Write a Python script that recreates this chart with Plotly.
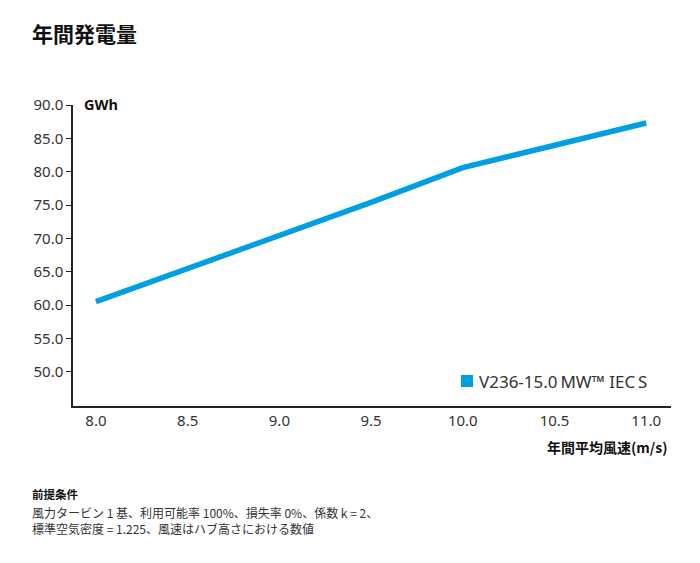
import plotly.graph_objects as go

# Annual energy production vs. annual mean wind speed
wind_speed = [8.0, 8.5, 9.0, 9.5, 10.0, 10.5, 11.0]
energy_gwh = [60.5, 65.5, 70.3, 75.4, 80.6, 84.0, 87.3]
series_name = "V236-15.0\u2009MW\u2122 IEC\u2009S"

y_ticks = [50, 55, 60, 65, 70, 75, 80, 85, 90]
x_ticks = [8.0, 8.5, 9.0, 9.5, 10.0, 10.5, 11.0]

BLUE = "#009fe3"
TEXT = "#333333"
FONT = "Noto Sans, Noto Sans CJK JP, sans-serif"
JP_FONT = "Noto Sans CJK JP, Noto Sans, sans-serif"

fig = go.Figure()
fig.add_trace(go.Scatter(
    x=wind_speed, y=energy_gwh, mode="lines",
    line=dict(color=BLUE, width=5.5),
    showlegend=False, name=series_name,
))

fig.update_layout(
    width=700, height=563,
    margin=dict(l=73, r=29, t=105, b=157),
    paper_bgcolor="white", plot_bgcolor="white",
    font=dict(family=FONT, color=TEXT, size=15),
    showlegend=False,
    xaxis=dict(
        range=[7.875, 11.135], tickvals=x_ticks, tickformat=".1f",
        showgrid=False, zeroline=False, showline=True, linecolor="#222",
        linewidth=1.5, ticks="", tickfont=dict(size=15, color=TEXT),
    ),
    yaxis=dict(
        range=[44.85, 90], tickvals=y_ticks, tickformat=".1f",
        showgrid=False, zeroline=False, showline=True, linecolor="#222",
        linewidth=1.5, ticks="outside", ticklen=5, tickcolor="#222",
        tickwidth=1.2, tickfont=dict(size=15, color=TEXT),
    ),
)

# Legend key: blue square with series name
fig.add_shape(type="rect", xref="paper", yref="paper",
              x0=(461 - 73) / 598, x1=(473 - 73) / 598,
              y0=(406 - 387) / 301, y1=(406 - 375) / 301,
              fillcolor=BLUE, line=dict(width=0))
fig.add_annotation(text=series_name, xref="paper", yref="paper",
                   x=(477 - 73) / 598, y=(406 - 381) / 301,
                   xanchor="left", yanchor="middle", showarrow=False,
                   font=dict(size=17, color=TEXT, family=FONT))

# Title
fig.add_annotation(text="<b>年間発電量</b>", xref="paper", yref="paper",
                   x=(30 - 73) / 598, y=(406 - 33) / 301,
                   xanchor="left", yanchor="middle", showarrow=False,
                   font=dict(size=21, color="#111", family=JP_FONT))

# Unit label
fig.add_annotation(text="<b>GWh</b>", xref="paper", yref="paper",
                   x=(82 - 73) / 598, y=(406 - 104) / 301,
                   xanchor="left", yanchor="middle", showarrow=False,
                   font=dict(size=14.5, color="#111", family=FONT))

# X-axis title
fig.add_annotation(text="<b>年間平均風速(m/s)</b>", xref="paper", yref="paper",
                   x=(669 - 73) / 598, y=(406 - 447) / 301,
                   xanchor="right", yanchor="middle", showarrow=False,
                   font=dict(size=14, color="#111", family=JP_FONT))

# Footnote
fig.add_annotation(text="<b>前提条件</b>", xref="paper", yref="paper",
                   x=(30 - 73) / 598, y=(406 - 494) / 301,
                   xanchor="left", yanchor="middle", showarrow=False,
                   font=dict(size=11.5, color="#111", family=JP_FONT))
fig.add_annotation(
    text="風力タービン 1 基、利用可能率 100%、損失率 0%、係数 k = 2、<br>"
         "標準空気密度 = 1.225、風速はハブ高さにおける数値",
    xref="paper", yref="paper",
    x=(30 - 73) / 598, y=(406 - 502) / 301,
    xanchor="left", yanchor="top", align="left", showarrow=False,
    font=dict(size=12, color=TEXT, family=JP_FONT))

fig.write_html("out.html")
